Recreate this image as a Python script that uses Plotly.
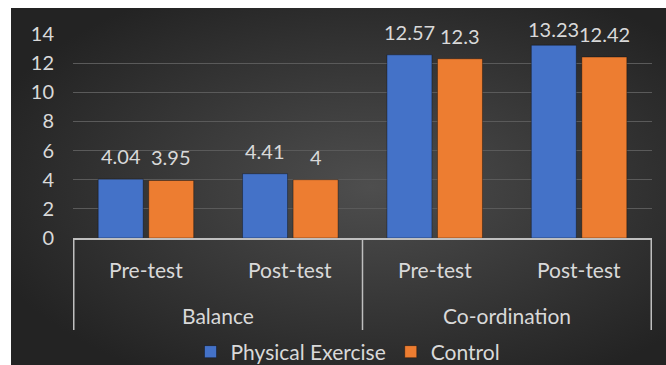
import base64
import plotly.graph_objects as go

# Data
groups = ["Balance", "Balance", "Co-ordination", "Co-ordination"]
phases = ["Pre-test", "Post-test", "Pre-test", "Post-test"]
exercise = [4.04, 4.41, 12.57, 13.23]
control = [3.95, 4.00, 12.30, 12.42]
series_names = ["Physical Exercise", "Control"]
y_ticks = [0, 2, 4, 6, 8, 10, 12, 14]

FONT = "Lato"
TXT = "#d9d9d9"
LINE = "#bfbfbf"
BLUE = "#4472c8"
ORANGE = "#ed7d31"
BARGAP = 0.30
Y_MAX = 14

# Plot area spans pixels x 73..652, y 34..238 inside a 666x365 page
W, H = 666, 365
pl, pr, pt, pb = 73, 652, 34, 238
pw, ph = pr - pl, pb - pt


def py(pixel_y):
    """Page pixel row -> paper y."""
    return (pb - pixel_y) / ph


# Dark radial-gradient backdrop as an inline SVG image
svg = (
    '<svg xmlns="http://www.w3.org/2000/svg" width="655" height="357" '
    'preserveAspectRatio="none" viewBox="0 0 655 357">'
    '<defs><radialGradient id="g" cx="55%" cy="50%" r="62%">'
    '<stop offset="0" stop-color="#4e4e4e"/>'
    '<stop offset="1" stop-color="#232323"/>'
    '</radialGradient></defs>'
    '<rect width="655" height="357" fill="url(#g)"/></svg>'
)
bg_src = "data:image/svg+xml;base64," + base64.b64encode(svg.encode()).decode()

fig = go.Figure()
fig.add_trace(go.Bar(
    x=[groups, phases], y=exercise, name=series_names[0],
    marker=dict(color=BLUE, line=dict(color="rgba(0,0,0,0.35)", width=1)),
))
fig.add_trace(go.Bar(
    x=[groups, phases], y=control, name=series_names[1],
    marker=dict(color=ORANGE, line=dict(color="rgba(0,0,0,0.35)", width=1)),
))

# Value labels above each bar, kept from running off the top of the chart
offset = (1 - BARGAP) / 4
LABEL_GAP = 23
TOP_LIMIT = pt - 5.5  # highest allowed label centre (page pixels)
for s, vals in enumerate([exercise, control]):
    for i, v in enumerate(vals):
        bar_top_px = pb - v / Y_MAX * ph
        shift = min(LABEL_GAP, bar_top_px - TOP_LIMIT)
        fig.add_annotation(
            x=i + (2 * s - 1) * offset, y=v, xref="x", yref="y",
            text=f"{v:g}", showarrow=False, yanchor="middle", yshift=shift,
            font=dict(family=FONT, size=20, color=TXT),
        )

# Two-level category labels under the axis
for i, p in enumerate(phases):
    fig.add_annotation(
        x=i, y=py(269), xref="x", yref="paper", text=p, showarrow=False,
        yanchor="middle", font=dict(family=FONT, size=21, color=TXT),
    )
group_names = list(dict.fromkeys(groups))
for g in group_names:
    idx = [i for i, gg in enumerate(groups) if gg == g]
    fig.add_annotation(
        x=(idx[0] + idx[-1]) / 2, y=py(315), xref="x", yref="paper", text=g,
        showarrow=False, yanchor="middle",
        font=dict(family=FONT, size=21, color=TXT),
    )

# Group dividers
bounds = [-0.5] + [i + 0.5 for i in range(len(groups) - 1)
                   if groups[i] != groups[i + 1]] + [len(groups) - 0.5]
for b in bounds:
    fig.add_shape(
        type="line", xref="x", yref="paper", x0=b, x1=b, y0=0, y1=py(330),
        line=dict(color=LINE, width=1.5),
    )

fig.add_layout_image(
    source=bg_src, xref="paper", yref="paper",
    x=(11 - pl) / pw, y=py(8),
    sizex=(W - 11) / pw, sizey=(H - 8) / ph,
    xanchor="left", yanchor="top", sizing="stretch", layer="below",
)

fig.update_layout(
    width=W, height=H,
    margin=dict(l=pl, r=W - pr, t=pt, b=H - pb, autoexpand=False),
    paper_bgcolor="white", plot_bgcolor="rgba(0,0,0,0)",
    barmode="group", bargap=BARGAP, bargroupgap=0.11,
    font=dict(family=FONT, size=20, color=TXT),
    showlegend=True,
    legend=dict(
        orientation="h", x=(348 - pl) / pw, xanchor="center",
        y=py(352), yanchor="middle",
        font=dict(family=FONT, size=21, color=TXT), bgcolor="rgba(0,0,0,0)",
        itemwidth=30,
    ),
)
fig.update_yaxes(
    range=[0, Y_MAX], tickvals=y_ticks, showgrid=True, gridcolor="#5a5a5a",
    gridwidth=1, zeroline=False, showline=False, ticks="", automargin=False,
    ticklabelstandoff=18, tickfont=dict(family=FONT, size=20, color=TXT),
)
fig.update_xaxes(
    type="multicategory", showline=True, linecolor=LINE, linewidth=1.5,
    showticklabels=False, showdividers=False, ticks="", automargin=False,
)

fig.write_html("out.html")
